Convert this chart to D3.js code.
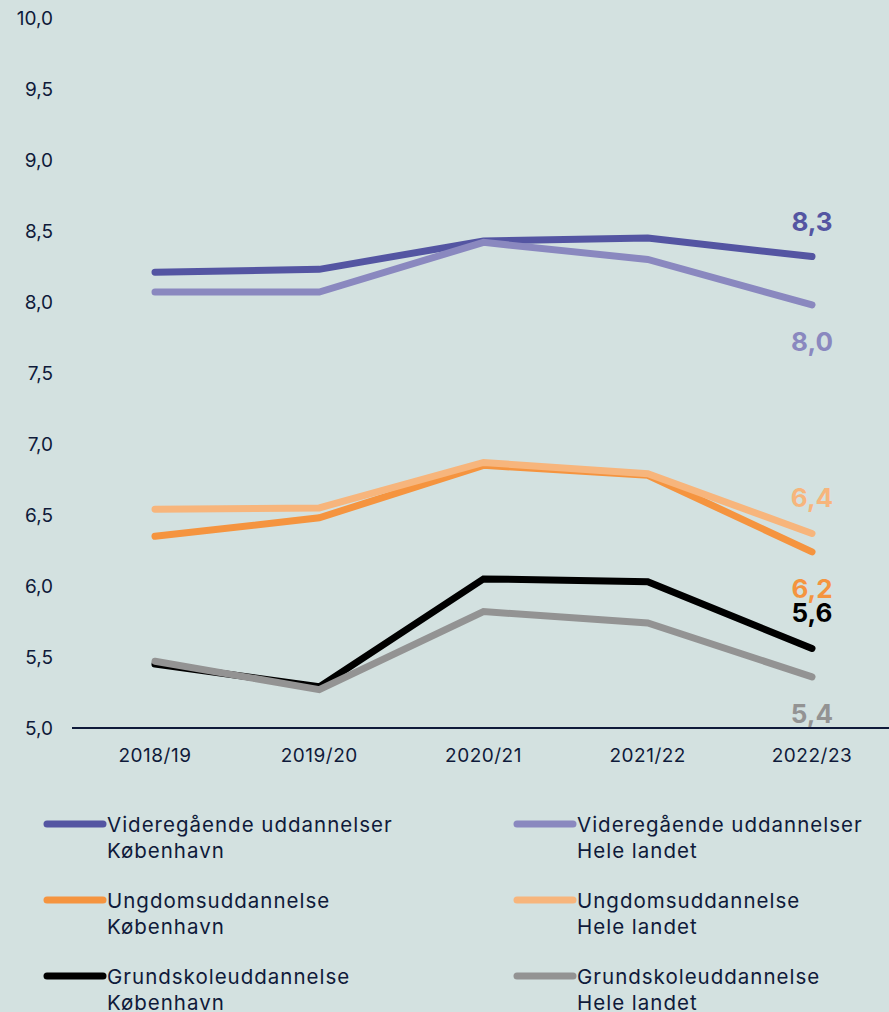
<!DOCTYPE html>
<html><head><meta charset="utf-8">
<script src="https://cdn.jsdelivr.net/npm/d3@7"></script>
<style>
html,body{margin:0;padding:0;background:#d3e1e0;}
svg{display:block;font-family:Inter, "Noto Sans", sans-serif;}
</style></head><body>
<svg id="chart" width="889" height="1012"></svg>
<script>
const years = ["2018/19","2019/20","2020/21","2021/22","2022/23"];
const yTicks = [5.0,5.5,6.0,6.5,7.0,7.5,8.0,8.5,9.0,9.5,10.0];
const seriesNames = [
  ["Videregående uddannelser","København"],
  ["Videregående uddannelser","Hele landet"],
  ["Ungdomsuddannelse","København"],
  ["Ungdomsuddannelse","Hele landet"],
  ["Grundskoleuddannelse","København"],
  ["Grundskoleuddannelse","Hele landet"]
];
const videregaaendeKbh   = [8.21, 8.23, 8.43, 8.45, 8.32];
const videregaaendeHele  = [8.07, 8.07, 8.42, 8.30, 7.98];
const ungdomKbh          = [6.35, 6.48, 6.85, 6.78, 6.24];
const ungdomHele         = [6.54, 6.55, 6.87, 6.79, 6.37];
const grundskoleKbh      = [5.45, 5.29, 6.05, 6.03, 5.56];
const grundskoleHele     = [5.47, 5.27, 5.82, 5.74, 5.36];
const endLabels = ["8,3","8,0","6,2","6,4","5,6","5,4"];
const colors = ["#5455a2","#8a88bf","#f5943f","#f7b57c","#000000","#939393"];
const labelSide = ["above","below","below","above","above","below"];

const allValues = [videregaaendeKbh, videregaaendeHele, ungdomKbh, ungdomHele, grundskoleKbh, grundskoleHele];
const series = allValues.map((v,i)=>({name:seriesNames[i], values:v, color:colors[i], label:endLabels[i], side:labelSide[i]}));

const svg = d3.select("#chart");
const textColor = "#0f1a3a";

const x = d3.scalePoint().domain(years).range([155, 812]);
const y = d3.scaleLinear().domain([5, 10]).range([728, 18]);

// y tick labels
svg.append("g").selectAll("text").data(yTicks).join("text")
  .attr("x", 53).attr("y", d=>y(d)).attr("dy","0.35em")
  .attr("text-anchor","end").attr("font-size",19).attr("fill",textColor)
  .text(d=>d3.format(".1f")(d).replace(".",","));

// x labels
svg.append("g").selectAll("text").data(years).join("text")
  .attr("x", d=>x(d)).attr("y", 755).attr("dy","0.35em")
  .attr("text-anchor","middle").attr("font-size",19).attr("letter-spacing",0.5).attr("fill",textColor)
  .text(d=>d);

// lines
const line = d3.line().x((d,i)=>x(years[i])).y(d=>y(d));
svg.append("g").selectAll("path").data(series).join("path")
  .attr("d", d=>line(d.values))
  .attr("fill","none").attr("stroke",d=>d.color).attr("stroke-width",7)
  .attr("stroke-linecap","round").attr("stroke-linejoin","miter");

// end labels
svg.append("g").selectAll("text").data(series).join("text")
  .attr("x", x(years[4]))
  .attr("y", d=>y(d.values[4]) + (d.side==="above" ? -26 : 46))
  .attr("text-anchor","middle").attr("font-size",26).attr("font-weight",700)
  .attr("fill",d=>d.color).text(d=>d.label);

// axis line
svg.append("line").attr("x1",72).attr("x2",889).attr("y1",y(5)).attr("y2",y(5))
  .attr("stroke",textColor).attr("stroke-width",2);

// legend
const leg = svg.append("g").selectAll("g").data(series).join("g")
  .attr("transform",(d,i)=>`translate(${i%2===0?47:517},${824 + Math.floor(i/2)*76})`);
leg.append("line").attr("x1",0).attr("x2",56).attr("y1",0).attr("y2",0)
  .attr("stroke",d=>d.color).attr("stroke-width",7).attr("stroke-linecap","round");
leg.append("text").attr("x",60).attr("y",8).attr("font-size",20.5).attr("letter-spacing",1)
  .attr("fill",textColor)
  .selectAll("tspan").data(d=>d.name).join("tspan")
  .attr("x",60).attr("dy",(d,i)=>i===0?0:26).text(d=>d);
</script>
</body></html>
